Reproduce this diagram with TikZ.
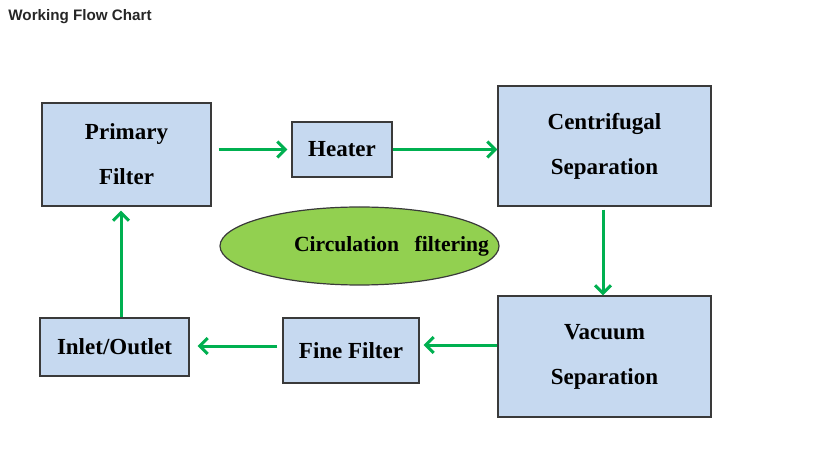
\documentclass[tikz,border=0pt]{standalone}
\usepackage{fontspec}
\setmainfont{Liberation Serif}
\newfontfamily\titlefont{Liberation Sans}
\usetikzlibrary{shapes.geometric,arrows.meta}
\definecolor{boxblue}{HTML}{C6D9F0}
\definecolor{leafgreen}{HTML}{92D050}
\definecolor{flowgreen}{HTML}{00B050}
\definecolor{edgegray}{HTML}{3A3A3A}

\begin{document}
\begin{tikzpicture}[x=0.5pt, y=-0.5pt]
% Styles
\tikzset{
    stage/.style={draw=edgegray, fill=boxblue, line width=0.6pt, inner sep=0pt,
        align=center, font=\fontsize{11.5}{22.5}\selectfont\bfseries},
    flow/.style={draw=flowgreen, line width=1.5pt,
        -{Straight Barb[length=4pt, width=8pt, line width=1.5pt]}}
}
\useasboundingbox (0, 0) rectangle (830, 454);

% Title
\node[anchor=base west, inner sep=0pt, text=black!85, font=\titlefont\fontsize{7.6}{9}\selectfont\bfseries] (TT) at (8, 21) {Working Flow Chart};

% Nodes
\node[stage, minimum width=84.5pt, minimum height=51.5pt] (PF) at (126.5, 154.5) {Primary\\Filter};
\node[stage, minimum width=50pt, minimum height=27.5pt] (HT) at (342, 149.5) {Heater};
\node[stage, minimum width=106.5pt, minimum height=60pt] (CS) at (604.5, 146) {Centrifugal\\Separation};
\node[stage, minimum width=106.5pt, minimum height=60.5pt] (VS) at (604.5, 356.5) {Vacuum\\Separation};
\node[stage, minimum width=68pt, minimum height=32.5pt] (FF) at (351, 350.5) {Fine Filter};
\node[stage, minimum width=74.5pt, minimum height=29pt] (IO) at (114.5, 347) {Inlet/Outlet};
\node[ellipse, draw=edgegray, fill=leafgreen, line width=0.6pt, inner sep=0pt,
    minimum width=139.5pt, minimum height=39pt,
    label={[xshift=16pt, font=\fontsize{10.8}{12}\selectfont\bfseries]center:Circulation\hspace{5pt} filtering}] (CF) at (359.5, 246) {};

% Connections
\draw[flow, shorten <=3.5pt, shorten >=2pt] (PF.east |- HT.west) -- (HT.west);
\draw[flow] (HT.east) -- (HT.east -| CS.west);
\draw[flow, shorten <=1.5pt] ([xshift=-0.75pt]CS.south) -- ([xshift=-0.75pt]CS.south |- VS.north);
\draw[flow, shorten >=2pt] ([yshift=5.75pt]VS.west) -- ([yshift=5.75pt]VS.west -| FF.east);
\draw[flow, shorten <=2.5pt, shorten >=4pt] ([yshift=2.25pt]FF.west) -- ([yshift=2.25pt]FF.west -| IO.east);
\draw[flow, shorten >=2pt] ([xshift=3.25pt]IO.north) -- ([xshift=3.25pt]IO.north |- PF.south);
\end{tikzpicture}
\end{document}
